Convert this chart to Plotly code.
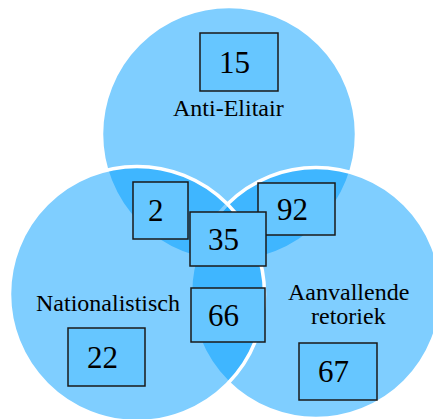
import plotly.graph_objects as go

# ---- data ----
set_labels = ["Anti-Elitair", "Nationalistisch", "Aanvallende retoriek"]
region_keys = ["A", "AN", "ANR", "AR", "NR", "N", "R"]
region_counts = [15, 2, 35, 92, 66, 22, 67]

# ---- layout (pixel geometry, page coordinates) ----
PAGE_W, PAGE_H = 441, 419
OFF = 8  # default body margin of the page
circles = {  # set index -> (cx, cy, r)
    0: (229, 134, 127.5),
    1: (137, 294, 127.5),
    2: (316, 293, 125.5),
}
draw_order = [0, 2, 1]
fill = "rgba(0,158,255,0.5)"

# box centre x, centre y, width, height
boxes = {
    "A": (239, 62, 78, 58),
    "AN": (160.5, 210.5, 55, 57),
    "AR": (296.5, 209, 77, 52),
    "ANR": (228, 239, 76, 54),
    "NR": (228, 315, 74, 54),
    "N": (106.5, 357, 77, 58),
    "R": (338, 371.5, 78, 57),
}
box_order = ["A", "AN", "AR", "ANR", "NR", "N", "R"]
label_pos = {0: (228, 108), 1: (108, 303), 2: (348, 292)}

serif = "Liberation Serif, Times New Roman, serif"

fig = go.Figure()
fig.add_trace(go.Scatter(x=[OFF, PAGE_W], y=[OFF, PAGE_H], mode="markers",
                         marker=dict(opacity=0), hoverinfo="skip", showlegend=False))

shapes = []
for i in draw_order:
    cx, cy, r = circles[i]
    shapes.append(dict(type="circle", xref="x", yref="y",
                       x0=cx - r, x1=cx + r, y0=cy - r, y1=cy + r,
                       fillcolor=fill, line=dict(color="white", width=3.5),
                       layer="above"))

count_of = dict(zip(region_keys, region_counts))
annotations = []
for k in box_order:
    cx, cy, w, h = boxes[k]
    shapes.append(dict(type="rect", xref="x", yref="y",
                       x0=cx - w / 2, x1=cx + w / 2, y0=cy - h / 2, y1=cy + h / 2,
                       fillcolor="#66C6FF", line=dict(color="#1a1a1a", width=1.5),
                       layer="above"))
    annotations.append(dict(x=cx - 4.5, y=cy, xref="x", yref="y",
                            text=str(count_of[k]), showarrow=False,
                            xanchor="center", yanchor="middle",
                            font=dict(family=serif, size=31, color="black")))

for i, lab in enumerate(set_labels):
    lx, ly = label_pos[i]
    words = lab.split(" ")
    for j, line in enumerate(words if i == 2 else [lab]):
        annotations.append(dict(x=lx, y=ly + j * 24, xref="x", yref="y",
                                text=line, showarrow=False,
                                xanchor="center", yanchor="middle",
                                font=dict(family=serif, size=24, color="black")))

fig.update_layout(
    width=PAGE_W - OFF, height=PAGE_H - OFF,
    margin=dict(l=0, r=0, t=0, b=0),
    paper_bgcolor="white", plot_bgcolor="white",
    xaxis=dict(range=[OFF, PAGE_W], visible=False, fixedrange=True),
    yaxis=dict(range=[PAGE_H, OFF], visible=False, fixedrange=True),
    shapes=shapes, annotations=annotations,
    showlegend=False,
)
fig.write_html("out.html")
